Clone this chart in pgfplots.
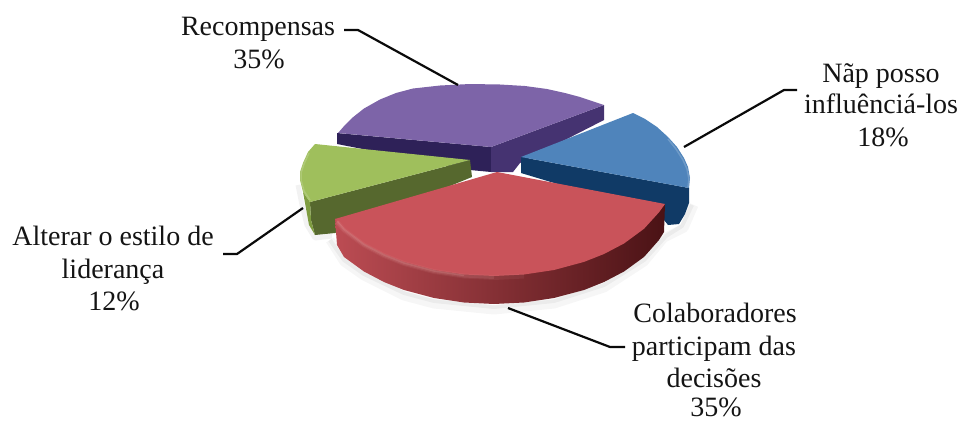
\documentclass[border=0pt]{standalone}
\usepackage{fontspec}
\setmainfont{Liberation Serif}
\usepackage{pgfplots}
\pgfplotsset{compat=1.18}
\definecolor{purpleTop}{HTML}{7D64A8}
\definecolor{purpleL}{HTML}{2E2158}
\definecolor{purpleR}{HTML}{453371}
\definecolor{blueTop}{HTML}{4F84BB}
\definecolor{blueSide}{HTML}{103A66}
\definecolor{greenTop}{HTML}{9FBF5C}
\definecolor{greenSide}{HTML}{56682E}
\definecolor{greenOut}{HTML}{7E9C40}
\definecolor{redTop}{HTML}{C9535A}
\definecolor{redL}{HTML}{BC4C53}
\definecolor{redM}{HTML}{8A2F36}
\definecolor{redR}{HTML}{4A1215}
\definecolor{redRim}{HTML}{E8A0A0}
\definecolor{leader}{HTML}{0A0A0A}
\newcommand{\lbl}[2]{\node[anchor=base,inner sep=0pt,text=black!92,font=\fontsize{28}{33}\selectfont] at (axis cs:#1) {#2};}
\begin{document}
\begin{tikzpicture}
\path (0,0) rectangle (963pt,421pt);
\begin{axis}[
  at={(0,0)}, anchor=south west,
  width=963pt, height=421pt, scale only axis,
  xmin=0, xmax=963, ymin=0, ymax=421, y dir=reverse,
  hide axis, clip=false,
  every axis plot/.append style={no markers, line join=round}
]
% soft shadow under the pie
\addplot[draw=black, opacity=.035, line width=9pt] coordinates {(330,240)(344,262)(364,276)(404,296)(434,304)(494,310)(554,304)(604,288)(644,262)(664,238)(684,228)(694,205)};
\addplot[draw=black, opacity=.045, line width=4pt] coordinates {(330,240)(344,260)(364,274)(404,293)(434,301)(494,307)(554,301)(604,285)(644,260)(666,236)(682,226)(692,205)};
\addplot[draw=black, opacity=.05, line width=5pt] coordinates {(298,185)(302,205)(307,225)(315,238)(332,236)};

% Recompensas
\addplot[fill=purpleL, draw=none] coordinates {(337,133)(491,147)(491,172)(470,170)(337,144)(337,133)};
\addplot[fill=purpleR, draw=none] coordinates {(491,147)(604,105)(604,120)(520,163)(513,172)(491,172)(491,147)};
\addplot[fill=purpleTop, draw=none] coordinates {(491,147)(338,133)(345,125)(352,118)(364,108.5)(380,99.5)(396,93)(413,88.5)(440,85.5)(470,84)(500,84.5)(525,86)(547,89)(565,93)(580,97)(604,105)(491,147)};

% Não posso influenciá-los
\addplot[fill=blueSide, draw=none] coordinates {(521,157)(689,188)(689,203)(685,214)(679,224)(668,225)(660,215)(521,173)(521,157)};
\addplot[fill=blueTop, draw=none] coordinates {(521,157)(633,113)(645,119)(657,127)(668,137)(677,147)(684,158)(688,167)(690,178)(689,188)(521,157)};
\addplot[draw=blueTop!60!white, opacity=.45, line width=1.5pt] coordinates {(668,139)(676,149)(683,160)(687,169)(689,179)(688,187)};

% Alterar o estilo de liderança
\addplot[fill=greenSide, draw=none] coordinates {(470,160)(310,202)(311,220)(315,235)(335,233)(472,177)(470,160)};
\addplot[fill=greenOut, draw=none] coordinates {(303,192)(310,202)(311,220)(315,235)(309,225)(303,192)};
\addplot[fill=greenTop, draw=none] coordinates {(470,160)(315,144)(308,152)(303,163)(300,172)(300,180)(303,192)(310,202)(470,160)};
\addplot[draw=greenTop!60!white, opacity=.4, line width=1.5pt] coordinates {(309,153)(304,164)(301,173)(301,180)(304,191)(310,200)};

% Colaboradores participam das decisões
\addplot[left color=redL, middle color=redM, right color=redR, draw=none] coordinates {(335,219)(337,245)(344,257)(364,271.5)(384,282)(404,290)(434,298)(464,302.5)(494,304)(524,302.5)(554,298)(584,290)(604,282)(624,271.5)(644,257)(659,240)(664,232)(665,204)(335,219)};
\addplot[fill=redTop, draw=none] coordinates {(497,172)(335,219)(344,228.8)(364,243.5)(384,254)(404,261.9)(434,270)(464,274.5)(494,276)(524,274.5)(554,270)(584,261.9)(604,254)(624,243.5)(644,228.8)(659,212.3)(665,204)(497,172)};
% soft rim highlight along the front edge
\addplot[draw=redRim, opacity=.09, line width=5pt] coordinates {(337,222)(344,230)(364,245)(384,255.5)(404,263.5)(434,271.5)(464,276)(494,277.5)(524,276)};
\addplot[draw=redRim, opacity=.15, line width=3pt] coordinates {(337,222)(344,230)(364,245)(384,255.5)(404,263.5)(434,271.5)(464,276)(494,277.5)};
\addplot[draw=redRim, opacity=.22, line width=1.5pt] coordinates {(337,221)(344,229.5)(364,244.5)(384,255)(404,263)(434,271)(464,275.5)};

% leader lines
\addplot[draw=leader, line width=2.2pt] coordinates {(344,30)(358,30)(458,85)};
\addplot[draw=leader, line width=2.2pt] coordinates {(797,90)(784,90)(684,147)};
\addplot[draw=leader, line width=2.2pt] coordinates {(223,254)(237,254)(303,208)};
\addplot[draw=leader, line width=2.2pt] coordinates {(508,308)(610,347)(625,347)};

% labels
\lbl{258,35}{Recompensas}
\lbl{259,68}{35\%}
\lbl{881,82}{Nãp posso}
\lbl{881,113}{influênciá-los}
\lbl{883,146}{18\%}
\lbl{113,245}{Alterar o estilo de}
\lbl{113,278}{liderança}
\lbl{114,310}{12\%}
\lbl{715,322}{Colaboradores}
\lbl{714,355}{participam das}
\lbl{714,387}{decisões}
\lbl{716,416}{35\%}
\end{axis}
\end{tikzpicture}
\end{document}
